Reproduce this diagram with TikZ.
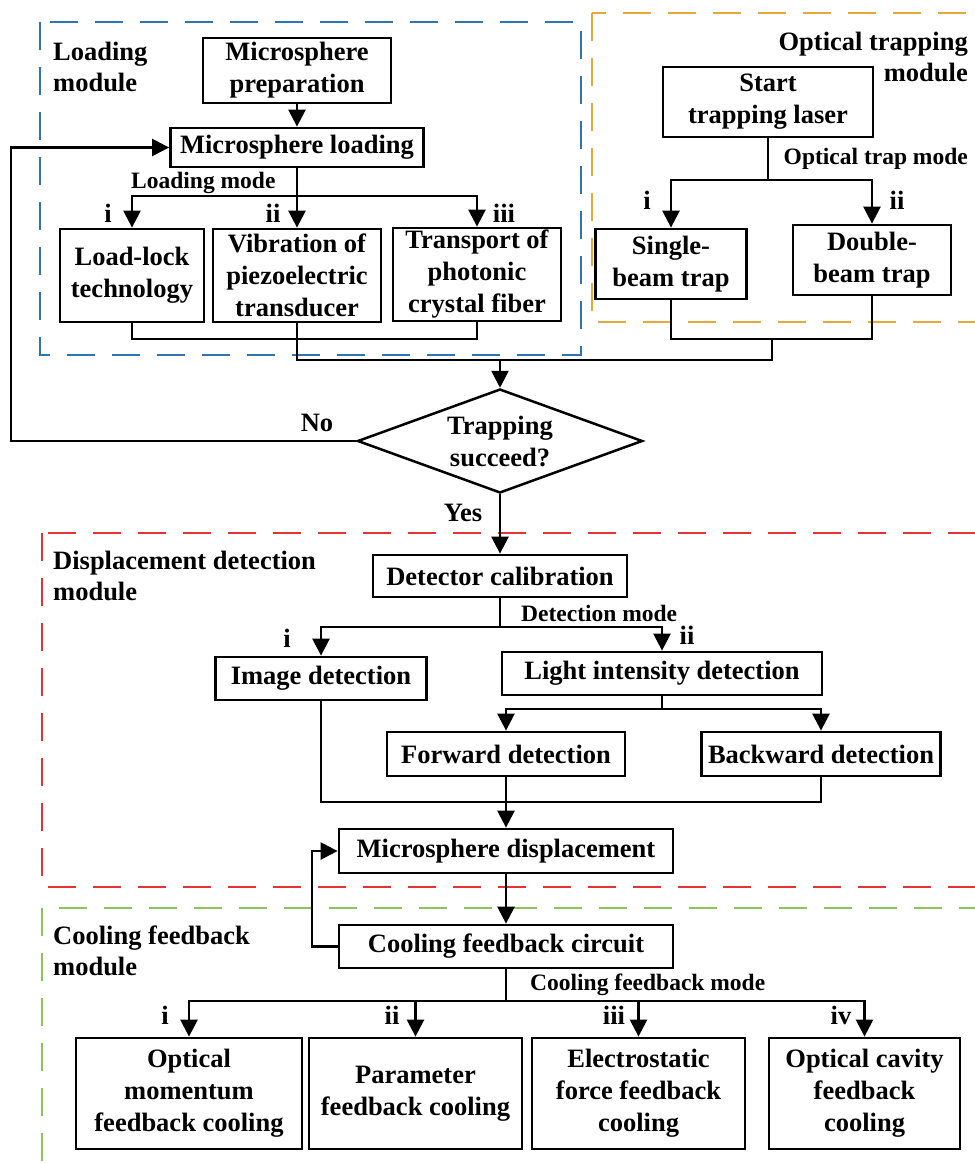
\documentclass[tikz,border=0pt]{standalone}
\usepackage{fontspec}
\setmainfont{Liberation Serif}
\usetikzlibrary{arrows.meta,shapes.geometric}
\definecolor{cblue}{RGB}{46,117,182}
\definecolor{corange}{RGB}{232,168,56}
\definecolor{cred}{RGB}{230,50,50}
\definecolor{cgreen}{RGB}{140,195,90}
\newcommand{\mainf}{\fontsize{26.5}{32}\selectfont\bfseries}
\newcommand{\labf}{\fontsize{23.5}{28}\selectfont\bfseries}
\newcommand{\titf}{\fontsize{26.5}{31}\selectfont\bfseries}
\begin{document}
\begin{tikzpicture}[x=1pt,y=-1pt,
  box/.style={draw, line width=2.8pt, align=center, inner sep=0pt, font=\mainf},
  lbl/.style={inner sep=0pt, font=\labf},
  rom/.style={inner sep=0pt, font=\mainf},
  tit/.style={inner sep=0pt, font=\titf},
  conn/.style={line width=2.5pt},
  arr/.style={conn, -{Triangle[length=17pt,width=17pt]}},
  modbox/.style={line width=2.6pt, dash pattern=on 28pt off 17pt},
]
\useasboundingbox (0,0) rectangle (975,1163);
\clip (0,0) rectangle (975,1163);
% module frames
\draw[modbox, cblue] (40,22) rectangle (581,355);
\draw[modbox, corange] (592,13) rectangle (1010,322);
\draw[modbox, cred] (42,533) rectangle (1010,887);
\draw[modbox, cgreen] (42,908) rectangle (1010,1200);
% module titles
\node[tit, anchor=north west, align=left] (tload) at (53,42) {Loading\\module};
\node[tit, anchor=north east, align=right] (ttrap) at (968,32) {Optical trapping\\module};
\node[tit, anchor=north west, align=left] (tdisp) at (53,551) {Displacement detection\\module};
\node[tit, anchor=north west, align=left] (tcool) at (53,926) {Cooling feedback\\module};
% loading module
\node[box, minimum width=188pt, minimum height=65pt] (prep) at (297,70.5) {Microsphere\\preparation};
\node[box, minimum width=253pt, minimum height=39pt] (load) at (297,147.5) {Microsphere loading};
\node[box, minimum width=144pt, minimum height=93pt] (lock) at (132,275.5) {Load-lock\\technology};
\node[box, minimum width=168pt, minimum height=93pt] (vib) at (297,275.5) {Vibration of\\piezoelectric\\transducer};
\node[box, minimum width=168pt, minimum height=93pt] (trans) at (477,274.5) {Transport of\\photonic\\crystal fiber};
\node[lbl, anchor=west] (lmode) at (131,183) {Loading mode};
\node[rom] (li) at (108,213) {i};
\node[rom] (lii) at (273,213) {ii};
\node[rom] (liii) at (504,213) {iii};
% optical trapping module
\node[box, minimum width=210pt, minimum height=70pt] (start) at (768,102) {Start\\trapping laser};
\node[box, minimum width=151pt, minimum height=70pt] (single) at (671,264) {Single-\\beam trap};
\node[box, minimum width=158pt, minimum height=70pt] (double) at (872,260) {Double-\\beam trap};
\node[lbl, anchor=east] (omode) at (968,159) {Optical trap mode};
\node[rom] (oi) at (647,200) {i};
\node[rom] (oii) at (897,200) {ii};
% decision
\node[draw, diamond, line width=2.5pt, minimum width=285pt, minimum height=104pt, inner sep=0pt, aspect=2.74] (dec) at (500,441) {};
\node[align=center, font=\mainf, inner sep=0pt] (dectext) at (dec.center) {Trapping\\succeed?};
\node[rom] (no) at (317,423) {No};
\node[rom] (yes) at (463,513) {Yes};
% displacement detection module
\node[box, minimum width=254pt, minimum height=42pt] (detcal) at (500,576) {Detector calibration};
\node[lbl, anchor=west] (dmode) at (521,613) {Detection mode};
\node[rom] (di) at (287,638) {i};
\node[rom] (dii) at (687,635) {ii};
\node[box, minimum width=211pt, minimum height=43pt] (imgdet) at (321,678.5) {Image detection};
\node[box, minimum width=320pt, minimum height=43pt] (light) at (662,673.5) {Light intensity detection};
\node[box, minimum width=238pt, minimum height=44pt] (fwd) at (506,754) {Forward detection};
\node[box, minimum width=239pt, minimum height=44pt] (bwd) at (821,754) {Backward detection};
\node[box, minimum width=334pt, minimum height=44pt] (disp) at (506,851) {Microsphere displacement};
% cooling feedback module
\node[box, minimum width=334pt, minimum height=43pt] (cool) at (506,946.5) {Cooling feedback circuit};
\node[lbl, anchor=west] (cmode) at (530,985) {Cooling feedback mode};
\node[rom] (ci) at (165,1015) {i};
\node[rom] (cii) at (392,1015) {ii};
\node[rom] (ciii) at (614,1015) {iii};
\node[rom] (civ) at (841,1015) {iv};
\node[box, minimum width=226pt, minimum height=111pt] (c1) at (189,1093.5) {Optical\\momentum\\feedback cooling};
\node[box, minimum width=213pt, minimum height=111pt] (c2) at (415.5,1093.5) {Parameter\\feedback cooling};
\node[box, minimum width=213pt, minimum height=111pt] (c3) at (638.5,1093.5) {Electrostatic\\force feedback\\cooling};
\node[box, minimum width=191pt, minimum height=111pt] (c4) at (864.5,1093.5) {Optical cavity\\feedback\\cooling};
% connectors: loading
\draw[arr] (prep) -- (load);
\coordinate (lb) at (297,196);
\draw[conn] (load.south) -- (lb);
\draw[arr] (lb) -| (lock.north);
\draw[arr] (lb) -- (vib.north);
\draw[arr] (lb) -| (trans.north);
\coordinate (lj) at (297,339);
\draw[conn] (lock.south) |- (lj) -| (trans.south);
\coordinate (mj) at (500,360);
\draw[conn] (vib.south) |- (mj);
% connectors: trapping
\coordinate (sb) at (768,180);
\draw[conn] (start.south) -- (sb);
\draw[arr] (sb) -| (single.north);
\draw[arr] (sb) -| (double.north);
\coordinate (oj) at (772,339);
\draw[conn] (single.south) |- (oj) -| (double.south);
\draw[conn] (oj) |- (mj);
\draw[arr] (mj) -- (dec.north);
% no loop
\coordinate (nl) at (11,441);
\draw[arr] (dec.west) -- (nl) |- (load.west);
% detection
\draw[arr] (dec.south) -- (detcal.north);
\coordinate (db) at (500,627);
\draw[conn] (detcal.south) -- (db);
\draw[arr] (db) -| (imgdet.north);
\draw[arr] (db) -| (light.north);
\coordinate (lsb) at (662,709);
\draw[conn] (light.south) -- (lsb);
\draw[arr] (lsb) -| (fwd.north);
\draw[arr] (lsb) -| (bwd.north);
\coordinate (dj) at (506,802);
\draw[conn] (imgdet.south) |- (dj) -| (bwd.south);
\draw[arr] (fwd.south) -- (disp.north);
\draw[arr] (disp.south) -- (cool.north);
\coordinate (fb) at (312,946.5);
\draw[arr] (cool.west) -- (fb) |- (disp.west);
% cooling
\coordinate (cb) at (506,1001);
\draw[conn] (cool.south) -- (cb);
\draw[arr] (cb) -| (c1.north);
\draw[arr] (cb) -| (c2.north);
\draw[arr] (cb) -| (c3.north);
\draw[arr] (cb) -| (c4.north);
\end{tikzpicture}
\end{document}
